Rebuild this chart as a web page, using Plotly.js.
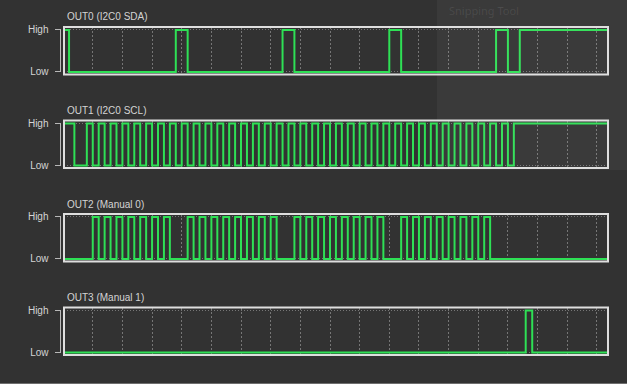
<!DOCTYPE html>
<html>
<head>
<meta charset="utf-8">
<script src="https://cdn.plot.ly/plotly-3.0.1.min.js"></script>
<style>
html,body{margin:0;padding:0;background:#323232;}
#chart{width:627px;height:384px;}
</style>
</head>
<body>
<div id="chart"></div>
<script>
// Channel titles
var channelNames = ["OUT0 (I2C0 SDA)", "OUT1 (I2C0 SCL)", "OUT2 (Manual 0)", "OUT3 (Manual 1)"];
var levelLabels = ["Low", "High"];
var levelValues = [0, 1];

// Transition times (arbitrary time units, grid every 10) and level after each transition
var sdaTime  = [0, 2, 38, 42, 74, 78, 110, 114, 146, 150, 154, 184];
var sdaLevel = [1, 0, 1, 0, 1, 0, 1, 0, 1, 0, 1, 1];

var sclTime  = [0, 3.8, 8, 10, 12, 14, 16, 18, 20, 22, 24, 26, 28, 30, 32, 34, 36, 38, 40, 42, 44, 46, 48, 50,
                52, 54, 56, 58, 60, 62, 64, 66, 68, 70, 72, 74, 76, 78, 80, 82, 84, 86, 88, 90, 92, 94, 96, 98,
                100, 102, 104, 106, 108, 110, 112, 114, 116, 118, 120, 122, 124, 126, 128, 130, 132, 134, 136,
                138, 140, 142, 144, 146, 148, 150, 152, 184];
var sclLevel = [1, 0, 1, 0, 1, 0, 1, 0, 1, 0, 1, 0, 1, 0, 1, 0, 1, 0, 1, 0, 1, 0, 1, 0,
                1, 0, 1, 0, 1, 0, 1, 0, 1, 0, 1, 0, 1, 0, 1, 0, 1, 0, 1, 0, 1, 0, 1, 0,
                1, 0, 1, 0, 1, 0, 1, 0, 1, 0, 1, 0, 1, 0, 1, 0, 1, 0, 1,
                0, 1, 0, 1, 0, 1, 0, 1, 1];

var man0Time  = [0, 10, 12, 14, 16, 18, 20, 22, 24, 26, 28, 30, 32, 34, 36,
                 42, 44, 46, 48, 50, 52, 54, 56, 58, 60, 62, 64, 66, 68, 70, 72,
                 78, 80, 82, 84, 86, 88, 90, 92, 94, 96, 98, 100, 102, 104, 106, 108,
                 114, 116, 118, 120, 122, 124, 126, 128, 130, 132, 134, 136, 138, 140, 142, 144, 184];
var man0Level = [0, 1, 0, 1, 0, 1, 0, 1, 0, 1, 0, 1, 0, 1, 0,
                 1, 0, 1, 0, 1, 0, 1, 0, 1, 0, 1, 0, 1, 0, 1, 0,
                 1, 0, 1, 0, 1, 0, 1, 0, 1, 0, 1, 0, 1, 0, 1, 0,
                 1, 0, 1, 0, 1, 0, 1, 0, 1, 0, 1, 0, 1, 0, 1, 0, 0];

var man1Time  = [0, 156, 158.2, 184];
var man1Level = [0, 1, 0, 0];

var W = 627, H = 384;
var green = "#2ee055";
var gridCol = "#767676";
var txtCol = "#d4d4d4";
var font = "Liberation Sans, Arial, sans-serif";

var series = [[sdaTime, sdaLevel], [sclTime, sclLevel], [man0Time, man0Level], [man1Time, man1Level]];
var boxTop = [27, 120.5, 214, 307.5];
var boxH = 47.5;
var titleY = [16.5, 110.5, 204, 297];

var traces = [];
var layout = {
  width: W, height: H,
  margin: {l: 0, r: 0, t: 0, b: 0},
  paper_bgcolor: "#323232",
  plot_bgcolor: "#323232",
  showlegend: false,
  shapes: [],
  annotations: []
};

var xd = [64 / W, 608 / W];
series.forEach(function (s, i) {
  var n = i === 0 ? "" : String(i + 1);
  traces.push({
    x: s[0], y: s[1], type: "scatter", mode: "lines",
    line: {shape: "hv", color: green, width: 2},
    xaxis: "x" + n, yaxis: "y" + n, hoverinfo: "skip"
  });
  var top = boxTop[i], bot = boxTop[i] + boxH;
  layout["xaxis" + n] = {
    domain: xd, range: [0.3, 183.75], anchor: "y" + n,
    showgrid: true, gridcolor: gridCol, griddash: "2px,2px", gridwidth: 1,
    tick0: 0, dtick: 10, showticklabels: false, ticks: "", zeroline: false, showline: false,
    fixedrange: true
  };
  layout["yaxis" + n] = {
    domain: [1 - bot / H, 1 - top / H], range: [-0.06, 1.07],
    anchor: "free", position: 60.5 / W,
    tickvals: levelValues, ticktext: levelLabels,
    ticks: "outside", ticklen: 6, tickwidth: 1, tickcolor: "#b8b8b8",
    ticklabelstandoff: 4,
    tickfont: {family: font, size: 10, color: txtCol},
    showgrid: true, gridcolor: gridCol, griddash: "1px,2px", gridwidth: 1,
    zeroline: false, showline: false, fixedrange: true
  };
  // panel frame
  layout.shapes.push({
    type: "rect", xref: "x" + n + " domain", yref: "y" + n + " domain",
    x0: 0, x1: 1, y0: 0, y1: 1, line: {color: "#dedede", width: 2}, layer: "above"
  });
  // bracket linking Low and High ticks
  layout.shapes.push({
    type: "line", xref: "paper", yref: "y" + n,
    x0: 60.5 / W, x1: 60.5 / W, y0: 0, y1: 1, line: {color: "#b8b8b8", width: 1}
  });
  layout.annotations.push({
    text: channelNames[i], xref: "paper", yref: "paper",
    x: 65 / W, y: 1 - titleY[i] / H, xanchor: "left", yanchor: "middle",
    showarrow: false, font: {family: font, size: 10, color: txtCol}
  });
});

// overlapping window region (top right)
layout.shapes.push({
  type: "rect", xref: "paper", yref: "paper",
  x0: 437 / W, x1: 1, y0: 1 - 170 / H, y1: 1,
  fillcolor: "rgba(255,255,255,0.045)", line: {width: 0}, layer: "above"
});
layout.annotations.push({
  text: "Snipping Tool", xref: "paper", yref: "paper",
  x: 447 / W, y: 1 - 1 / H, xanchor: "left", yanchor: "top",
  showarrow: false, font: {family: "Noto Sans, sans-serif", size: 11, color: "rgba(255,255,255,0.09)"}
});
// bottom edge line
layout.shapes.push({
  type: "line", xref: "paper", yref: "paper", x0: 0, x1: 1, y0: 0.5 / H, y1: 0.5 / H,
  line: {color: "#6e6e6e", width: 1}, layer: "above"
});

Plotly.newPlot("chart", traces, layout, {displayModeBar: false, staticPlot: true});
</script>
</body>
</html>
